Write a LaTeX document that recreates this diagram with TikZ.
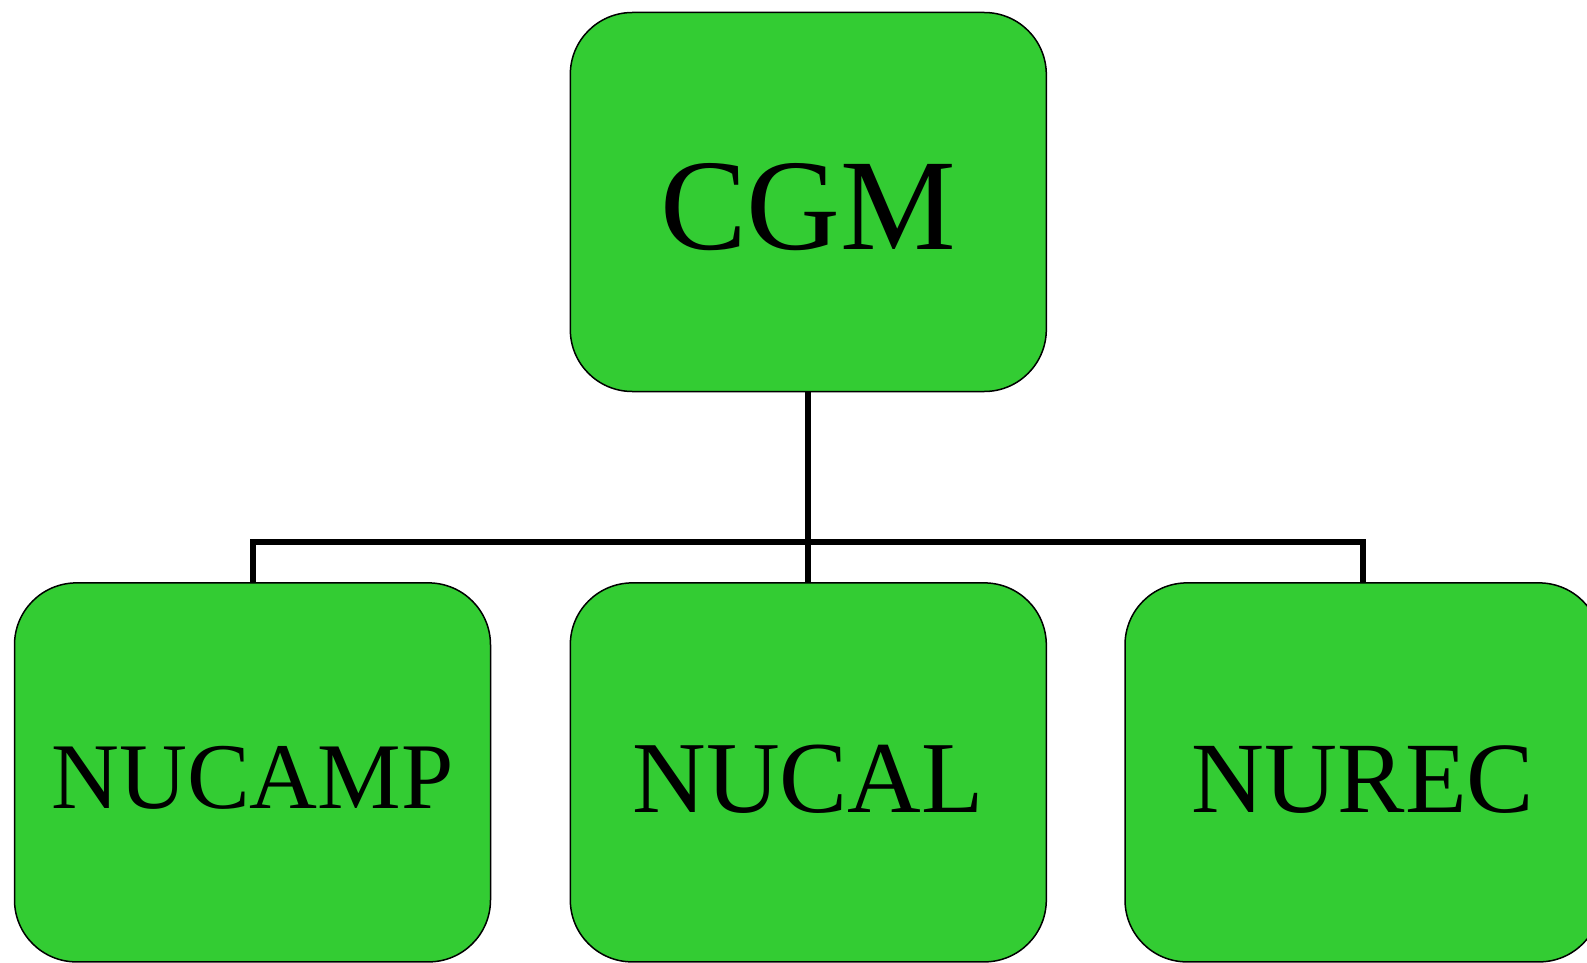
\documentclass[tikz,border=0pt]{standalone}
\usepackage{fontspec}
\setmainfont{Liberation Serif}
\definecolor{boxgreen}{RGB}{51,204,51}
\begin{document}
\begin{tikzpicture}[x=1pt,y=-1pt,
  box/.style={draw=black, line width=1.5pt, fill=boxgreen, rounded corners=62pt,
    minimum width=476pt, minimum height=379pt, inner sep=0pt, outer sep=0pt,
    text depth=0pt},
  conn/.style={draw=black, line width=6pt}]
\clip (0,0) rectangle (1587,963);
\fill[white] (0,0) rectangle (1587,963);
\node[box, font=\fontsize{130}{130}\selectfont, text height=95pt] (cgm) at (808.3,202) {CGM};
\node[box, font=\fontsize{94}{94}\selectfont, text height=73pt] (nucamp) at (252.5,772.4) {NUCAMP};
\node[box, font=\fontsize{102}{102}\selectfont, text height=80pt] (nucal) at (808.3,772.4) {NUCAL};
\node[box, font=\fontsize{101}{101}\selectfont, text height=80pt] (nurec) at (1363,772.4) {NUREC};
\coordinate (bar) at (808.3,541.5);
\draw[conn] (cgm.south) -- (nucal.north);
\draw[conn] (nucamp.north) |- (bar) -| (nurec.north);
\end{tikzpicture}
\end{document}
